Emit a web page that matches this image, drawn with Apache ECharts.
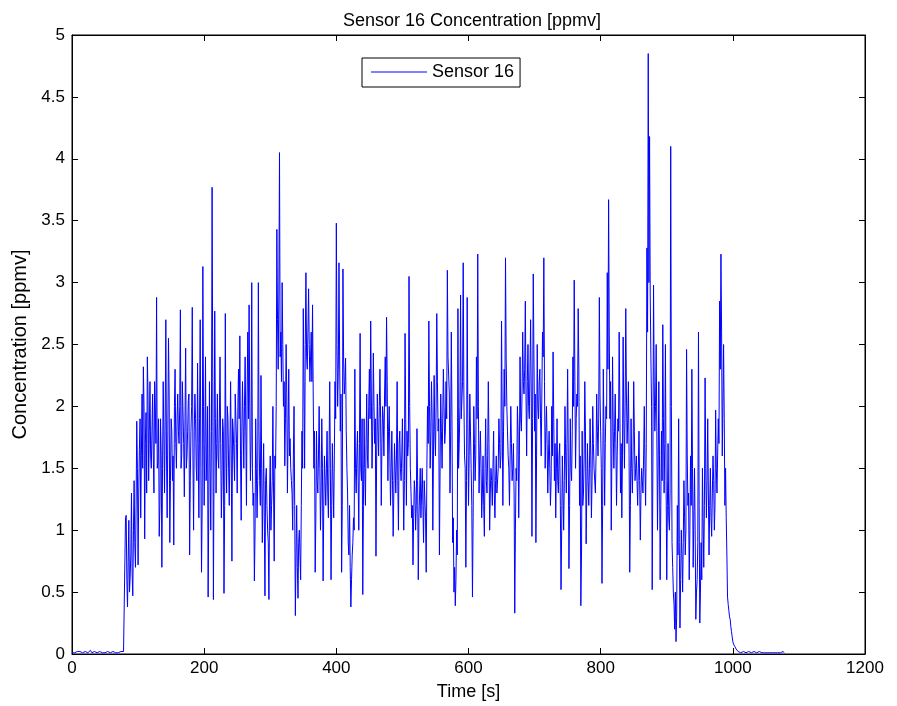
<!DOCTYPE html>
<html>
<head>
<meta charset="utf-8">
<script src="https://cdn.jsdelivr.net/npm/echarts@6/dist/echarts.min.js"></script>
<style>
html,body{margin:0;padding:0;background:#fff;}
#chart{width:897px;height:706px;}
</style>
</head>
<body>
<div id="chart"></div>
<script>
// ---- data ----
var chartTitle = 'Sensor 16 Concentration [ppmv]';
var seriesName = 'Sensor 16';
var xAxisName = 'Time [s]';
var yAxisName = 'Concentration [ppmv]';
var xTicks = [0, 200, 400, 600, 800, 1000, 1200];
var yTicks = [0, 0.5, 1, 1.5, 2, 2.5, 3, 3.5, 4, 4.5, 5];

// before release: t = 0, 2, ..., 78
var baselineStart = 0, baselineStep = 2;
var baselineValues = [
  0.01,0.02,0.01,0.01,0.02,0.01,0.02,0.02,0.01,0.01,
  0.02,0.01,0.01,0.02,0.03,0.01,0.01,0.02,0.01,0.01,
  0.01,0.02,0.01,0.01,0.02,0.01,0.01,0.02,0.01,0.01,
  0.01,0.02,0.01,0.01,0.02,0.01,0.01,0.02,0.01,0.02
];
// plume, even seconds: t = 80, 82, ..., 1008
var plumeEvenStart = 80, plumeEvenStep = 2;
var plumeEvenValues = [
  0.03,1.12,0.38,1.08,0.62,  1.3,0.47,1.4,0.7,1.88,
  0.72,1.65,1.1,2.1,2.32,  0.93,1.95,2.4,1.4,2.2,
  1.5,2.1,1.3,2.0,2.88,  1.55,0.95,1.9,0.7,2.2,
  1.3,2.7,1.1,2.55,0.9,  1.9,1.4,0.88,2.3,1.5,
  2.1,1.7,2.78,1.6,2.2,  1.27,2.47,1.6,2.05,0.8,
  1.8,2.8,1.0,2.1,1.5,  2.35,1.1,2.7,0.66,3.13,
  1.2,2.4,1.6,0.46,2.2,  1.0,3.77,0.44,2.77,1.3,
  2.1,1.5,2.4,1.1,1.9,  0.49,2.75,1.3,1.9,1.2,
  2.2,0.75,1.8,1.4,2.1,  1.3,2.3,2.57,1.08,2.2,
  1.5,2.4,1.2,2.6,2.82,  1.4,3.0,1.2,0.59,1.9,
  1.1,3.0,1.4,2.25,0.9,  1.7,0.47,1.5,1.0,0.44,
  1.6,1.2,2.0,0.75,1.5,  3.43,2.3,4.05,2.6,3.0,
  2.0,1.52,2.5,1.3,2.3,  1.74,1.4,1.0,2.0,0.31,
  1.2,0.45,1.0,0.6,1.8,  2.79,1.5,3.08,2.3,2.95,
  2.2,2.6,2.82,1.5,0.66,  1.8,1.3,2.0,1.0,1.9,
  0.59,1.6,1.2,1.8,1.1,  2.2,0.6,1.7,1.1,2.2,
  3.48,2.0,3.16,1.8,0.66,  3.11,2.1,2.39,1.5,0.9,
  1.2,0.38,0.8,1.1,2.3,  1.3,1.8,1.0,2.59,1.4,
  0.48,1.9,1.2,2.1,1.5,  2.3,2.69,1.5,2.43,1.7,
  0.79,2.1,1.6,2.3,1.2,  2.0,1.6,2.4,2.72,1.4,
  2.0,1.2,1.8,0.95,1.7,  1.3,2.2,1.0,1.8,1.4,
  1.9,1.0,2.59,1.2,1.6,  3.05,1.5,1.1,0.72,1.4,
  1.0,1.82,0.6,1.3,1.1,  1.5,0.9,1.4,0.66,2.0,
  2.69,1.5,2.2,1.0,2.25,  1.6,2.75,1.8,0.8,2.1,
  1.5,2.3,1.7,2.2,3.1,  2.4,1.3,2.6,0.9,0.5,
  0.39,1.0,2.79,1.7,2.9,  1.9,3.16,1.6,0.7,2.88,
  1.2,2.1,1.5,0.46,2.0,  1.4,2.4,3.23,1.3,1.8,
  1.1,1.6,0.95,1.9,1.3,  2.2,1.0,1.5,1.2,1.8,
  1.1,1.6,1.3,1.9,1.5,  2.69,1.2,2.3,3.2,2.0,
  1.6,1.2,2.0,1.4,1.7,  0.33,1.5,2.0,1.1,2.4,
  1.8,2.6,2.1,2.85,1.6,  2.5,1.9,2.7,0.95,3.07,
  1.8,0.9,2.5,1.9,2.3,  1.6,2.6,3.2,1.5,2.0,
  1.3,1.8,1.2,2.0,2.44,  1.4,1.1,1.9,1.3,1.7,
  0.52,1.6,1.0,2.0,1.3,  2.3,0.69,1.9,1.4,2.4,
  3.02,1.5,2.1,2.79,1.2,  0.39,1.8,1.3,2.2,0.89,
  1.7,1.2,1.9,1.1,2.0,  1.5,1.3,2.1,1.6,2.88,
  1.8,0.57,2.3,1.2,2.0,  3.08,3.67,1.9,1.0,2.4,
  1.5,2.1,1.2,1.9,2.6,  1.3,1.1,2.56,1.5,2.79,
  1.7,2.2,0.66,1.9,1.3,  2.2,1.4,1.6,1.2,1.8,
  0.92,1.5,1.3,2.0,1.2,  3.28,4.85,4.18,2.4,0.52,
  2.98,1.8,2.5,1.0,2.2,  0.6,1.8,2.66,1.3,2.5,
  0.6,1.7,1.0,4.1,0.9,  0.5,0.2,0.1,1.2,1.9,
  0.21,1.0,0.5,1.4,0.8,  2.46,1.2,0.6,1.6,2.3,
  0.7,1.5,0.28,0.6,2.6,  0.25,0.9,1.5,0.7,2.23,
  1.1,1.9,0.8,1.5,0.95,  1.6,1.0,1.97,1.3,1.9,
  2.85,3.23,1.6,2.5,1.2,  1.1,0.46,0.35,0.28,0.18,
  0.1,0.07,0.05,0.03,0.02
];
// plume, odd seconds: t = 81, 83, ..., 1009
var plumeOddStart = 81, plumeOddStep = 2;
var plumeOddValues = [
  1.1,0.6,0.75,0.5,0.8,  0.65,1.0,0.9,1.2,1.5,
  1.3,1.9,1.6,1.5,2.0,  1.7,1.3,2.1,1.8,1.6,
  1.8,1.6,2.2,1.7,1.5,  1.9,1.2,1.6,1.5,1.8,
  1.9,1.6,1.8,2.1,1.4,  1.8,1.6,2.0,1.7,1.9,
  1.8,2.0,1.5,2.2,1.7,  1.9,1.5,1.8,2.1,1.4,
  2.0,1.6,1.8,1.9,1.4,  1.7,1.9,1.5,1.2,2.0,
  1.7,1.4,2.0,1.2,1.5,  1.8,2.2,1.6,1.9,1.7,
  1.6,1.9,1.7,1.4,1.8,  1.2,1.6,2.0,1.5,1.7,
  1.6,1.9,1.8,2.1,1.7,  2.0,1.9,1.6,1.8,2.2,
  2.0,1.8,2.1,1.9,2.0,  1.7,1.5,1.3,1.0,1.5,
  1.4,1.8,1.2,1.5,1.3,  1.1,1.4,1.2,0.9,1.3,
  1.0,1.4,1.3,1.6,2.0,  2.7,2.9,2.4,2.2,2.5,
  2.2,1.9,2.1,1.8,1.6,  1.5,1.3,1.6,1.2,0.8,
  0.7,0.9,0.8,1.2,1.5,  2.2,2.5,2.4,2.6,2.5,
  2.4,2.2,2.1,1.8,1.1,  1.4,1.6,1.5,1.3,1.5,
  1.2,1.4,1.5,1.3,1.6,  1.5,1.2,1.4,1.6,1.9,
  2.5,2.3,2.4,2.1,1.2,  2.4,2.2,1.8,1.3,0.8,
  0.7,0.6,0.9,1.0,1.5,  1.6,1.4,1.7,1.5,1.9,
  1.2,1.5,1.7,1.6,2.0,  1.9,2.1,1.8,2.0,1.9,
  1.6,1.8,2.0,1.9,1.7,  1.9,2.1,2.0,2.2,1.8,
  1.6,1.5,1.4,1.3,1.5,  1.6,1.4,1.7,1.5,1.6,
  1.5,1.4,1.9,1.8,1.7,  2.0,1.3,1.2,1.1,1.3,
  1.2,1.4,1.1,1.5,1.3,  1.2,1.4,1.1,1.5,1.7,
  2.0,1.8,1.9,1.6,1.8,  2.0,2.2,1.9,1.5,1.8,
  1.9,2.0,1.8,1.9,2.4,  2.1,1.8,1.9,1.1,0.7,
  0.6,0.8,1.5,2.0,1.9,  2.2,2.1,1.5,1.4,1.9,
  1.6,1.8,1.2,1.1,1.7,  1.6,1.9,2.0,1.6,1.5,
  1.3,1.2,1.5,1.4,1.6,  1.7,1.3,1.4,1.5,1.3,
  1.4,1.3,1.5,1.7,1.6,  1.9,1.8,2.0,2.4,1.8,
  1.5,1.6,1.7,1.5,1.3,  1.0,1.4,1.8,1.6,1.9,
  2.1,2.2,2.3,2.1,2.2,  2.0,2.3,2.1,1.9,2.4,
  2.1,1.6,2.0,2.2,1.9,  2.1,2.4,2.2,1.8,1.7,
  1.6,1.5,1.4,1.6,1.9,  1.7,1.5,1.4,1.6,1.2,
  1.0,1.3,1.4,1.6,1.7,  1.6,1.2,1.5,1.8,2.0,
  2.2,1.9,2.0,2.3,1.6,  0.8,1.2,1.6,1.8,1.3,
  1.4,1.5,1.6,1.4,1.7,  1.5,1.6,1.8,1.9,2.1,
  1.5,1.2,1.8,1.7,1.9,  2.3,2.6,2.2,1.6,1.8,
  1.8,1.7,1.6,1.8,2.0,  1.7,1.6,1.9,2.0,2.1,
  1.9,1.6,1.2,1.5,1.6,  1.8,1.5,1.4,1.5,1.4,
  1.3,1.4,1.6,1.5,1.7,  2.6,3.0,2.9,2.0,1.5,
  2.2,2.0,1.8,1.5,1.6,  1.2,1.4,1.9,1.7,1.4,
  1.2,1.1,1.3,2.0,0.7,  0.4,0.5,0.3,0.8,0.9,
  0.6,0.8,0.9,1.1,1.0,  1.6,1.3,1.0,1.2,1.5,
  1.1,1.0,0.5,0.9,1.2,  0.5,0.6,1.1,1.2,1.5,
  1.4,1.3,1.2,1.1,1.3,  1.4,1.2,1.5,1.6,1.7,
  2.3,2.6,2.0,1.9,1.5,  0.8,0.4,0.3,0.22,0.14,
  0.08,0.06,0.04,0.03,0.02
];
// after release: t = 1010, 1012, ..., 1078
var tailStart = 1010, tailStep = 2;
var tailValues = [
  0.02,0.01,0.01,0.02,0.01,0.01,0.01,0.02,0.01,0.01,
  0.01,0.02,0.01,0.01,0.01,0.02,0.01,0.01,0.02,0.01,
  0.01,0.01,0.02,0.01,0.01,0.01,0.02,0.01,0.01,0.01,
  0.02,0.01,0.01,0.02,0.01
];

// ---- build ----
function toPoints(values, start, step) {
  return values.map(function (v, i) { return [start + i * step, v]; });
}
var seriesData = []
  .concat(toPoints(baselineValues, baselineStart, baselineStep))
  .concat(toPoints(plumeEvenValues, plumeEvenStart, plumeEvenStep))
  .concat(toPoints(plumeOddValues, plumeOddStart, plumeOddStep))
  .concat(toPoints(tailValues, tailStart, tailStep))
  .sort(function (a, b) { return a[0] - b[0]; });

var font = 'Liberation Sans, Arial, sans-serif';
var chart = echarts.init(document.getElementById('chart'), null, {renderer: 'canvas'});

function plainLabel(v) { return String(v); }
var tickStyle = {show: true, inside: true, length: 6, lineStyle: {color: '#000', width: 1}};
var lineStyleAxis = {show: true, onZero: false, lineStyle: {color: '#000', width: 1}};

var option = {
  animation: false,
  backgroundColor: '#ffffff',
  title: {
    text: chartTitle,
    left: 467, top: 7, textAlign: 'center',
    textStyle: {fontFamily: font, fontSize: 18, fontWeight: 'normal', color: '#000'}
  },
  legend: {
    data: [seriesName],
    left: 362, top: 58,
    padding: [5, 6, 6, 9],
    borderColor: '#000', borderWidth: 1,
    backgroundColor: '#fff',
    icon: 'rect', itemWidth: 56, itemHeight: 1, itemGap: 0,
    textStyle: {fontFamily: font, fontSize: 18, color: '#000'}
  },
  grid: {left: 72, right: 32, top: 35, bottom: 47, containLabel: false,
         show: true, borderColor: '#000', borderWidth: 1, backgroundColor: 'transparent'},
  xAxis: [{
    type: 'value', min: xTicks[0], max: xTicks[xTicks.length - 1], interval: 200,
    name: xAxisName, nameLocation: 'middle', nameGap: 29,
    nameTextStyle: {fontFamily: font, fontSize: 18, color: '#000'},
    axisLine: lineStyleAxis,
    axisTick: tickStyle,
    axisLabel: {fontFamily: font, fontSize: 17, color: '#000', margin: 6, formatter: plainLabel},
    splitLine: {show: false}
  }, {
    type: 'value', position: 'top', min: xTicks[0], max: xTicks[xTicks.length - 1], interval: 200,
    axisLine: lineStyleAxis,
    axisTick: tickStyle,
    axisLabel: {show: false}, splitLine: {show: false}
  }],
  yAxis: [{
    type: 'value', min: yTicks[0], max: yTicks[yTicks.length - 1], interval: 0.5,
    name: yAxisName, nameLocation: 'middle', nameGap: 40, nameRotate: 90,
    nameTextStyle: {fontFamily: font, fontSize: 20, color: '#000'},
    axisLine: lineStyleAxis,
    axisTick: tickStyle,
    axisLabel: {fontFamily: font, fontSize: 17, color: '#000', margin: 7, formatter: plainLabel},
    splitLine: {show: false}
  }, {
    type: 'value', position: 'right', min: yTicks[0], max: yTicks[yTicks.length - 1], interval: 0.5,
    axisLine: lineStyleAxis,
    axisTick: tickStyle,
    axisLabel: {show: false}, splitLine: {show: false}
  }],
  series: [{
    name: seriesName, type: 'line', xAxisIndex: 0, yAxisIndex: 0,
    data: seriesData, showSymbol: false, symbol: 'none',
    sampling: null,
    lineStyle: {color: '#0000ff', width: 1},
    itemStyle: {color: '#0000ff'}
  }, {
    name: 'frame', type: 'line', xAxisIndex: 1, yAxisIndex: 1,
    data: seriesData, showSymbol: false, symbol: 'none', silent: true,
    lineStyle: {opacity: 0, width: 0}, tooltip: {show: false}
  }]
};
chart.setOption(option);
</script>
</body>
</html>
